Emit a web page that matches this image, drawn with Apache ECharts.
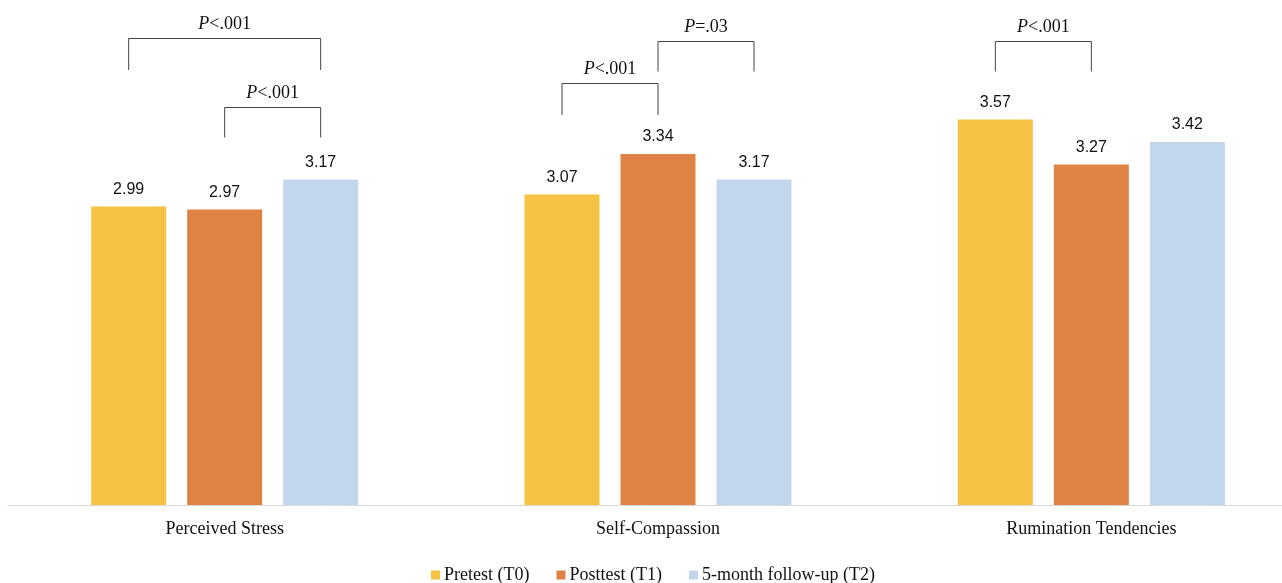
<!DOCTYPE html>
<html>
<head>
<meta charset="utf-8">
<script src="https://cdn.jsdelivr.net/npm/echarts@6/dist/echarts.min.js"></script>
<style>
  html, body { margin: 0; padding: 0; background: #fff; }
  #chart { width: 1282px; height: 583px; }
</style>
</head>
<body>
<div id="chart"></div>
<script>
var categories = ['Perceived Stress', 'Self-Compassion', 'Rumination Tendencies'];
var seriesNames = ['Pretest (T0)', 'Posttest (T1)', '5-month follow-up (T2)'];
var pretest = [2.99, 3.07, 3.57];
var posttest = [2.97, 3.34, 3.27];
var followup = [3.17, 3.17, 3.42];

// significance brackets: category, from bar, to bar, top value, tick end value, text
var bracketCategory = [0, 0, 1, 1, 2];
var bracketFrom = [0, 1, 0, 1, 0];
var bracketTo = [2, 2, 1, 2, 1];
var bracketTop = [4.11, 3.65, 3.81, 4.09, 4.09];
var bracketBottom = [3.9, 3.45, 3.6, 3.89, 3.89];
var bracketText = ['<.001', '<.001', '<.001', '=.03', '<.001'];

var colors = ['#F5C243', '#DF8344', '#C3D7EC'];
var barWidth = 75;
var barGap = 0.28;

var bracketData = bracketCategory.map(function (c, i) {
    return [c, bracketFrom[i], bracketTo[i], bracketTop[i], bracketBottom[i], bracketText[i]];
});

function renderBracket(params, api) {
    var step = barWidth * (1 + barGap);
    var cat = api.value(0);
    var cx = api.coord([cat, 1])[0];
    var x1 = cx + (api.value(1) - 1) * step;
    var x2 = cx + (api.value(2) - 1) * step;
    var yTop = api.coord([cat, api.value(3)])[1];
    var yBot = api.coord([cat, api.value(4)])[1];
    var txt = bracketText[params.dataIndex];
    var lineStyle = { stroke: '#444', lineWidth: 1, fill: null };
    return {
        type: 'group',
        children: [
            { type: 'polyline', shape: { points: [[x1, yBot], [x1, yTop], [x2, yTop], [x2, yBot]] }, style: lineStyle },
            {
                type: 'text',
                x: (x1 + x2) / 2,
                y: yTop - 5,
                style: {
                    text: '{i|P}{n|' + txt + '}',
                    align: 'center',
                    verticalAlign: 'bottom',
                    rich: {
                        i: { fontFamily: 'Liberation Serif', fontStyle: 'italic', fontSize: 18, fill: '#111' },
                        n: { fontFamily: 'Liberation Serif', fontSize: 18, fill: '#111' }
                    }
                }
            }
        ]
    };
}

var chartDom = document.getElementById('chart');
var myChart = echarts.init(chartDom);
var option;

function barSeries(name, data, color) {
    return {
        name: name,
        type: 'bar',
        data: data,
        barWidth: barWidth,
        barGap: (barGap * 100) + '%',
        itemStyle: { color: color },
        label: {
            show: true,
            position: 'top',
            distance: 9,
            formatter: function (p) { return p.value.toFixed(2); },
            fontFamily: 'Liberation Sans',
            fontSize: 16,
            color: '#111'
        }
    };
}

option = {
    animation: false,
    color: colors,
    grid: { left: 8, width: 1300, top: 55, bottom: 78, outerBoundsMode: 'none', containLabel: false },
    legend: {
        data: seriesNames,
        left: 426,
        top: 561,
        itemWidth: 9,
        itemHeight: 9,
        itemGap: 27,
        icon: 'rect',
        textStyle: { fontFamily: 'Liberation Serif', fontSize: 18, color: '#111', padding: [0, 0, 0, -1] }
    },
    xAxis: {
        type: 'category',
        data: categories,
        axisLine: { lineStyle: { color: '#d9d9d9', width: 1 } },
        axisTick: { show: false },
        axisLabel: { margin: 15, fontFamily: 'Liberation Serif', fontSize: 18, color: '#111' }
    },
    yAxis: {
        type: 'value',
        min: 1,
        max: 4,
        show: false
    },
    series: [
        barSeries(seriesNames[0], pretest, colors[0]),
        barSeries(seriesNames[1], posttest, colors[1]),
        barSeries(seriesNames[2], followup, colors[2]),
        {
            type: 'custom',
            renderItem: renderBracket,
            data: bracketData,
            clip: false,
            silent: true,
            z: 5
        }
    ]
};

option && myChart.setOption(option);
</script>
</body>
</html>
